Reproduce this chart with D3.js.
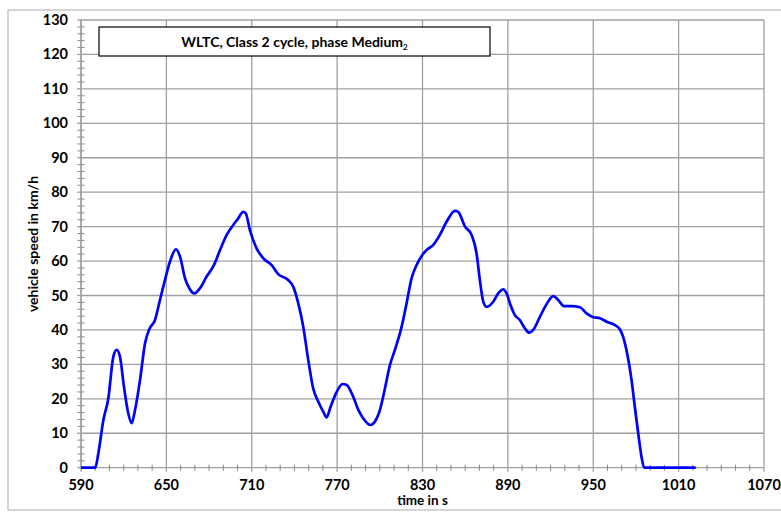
<!DOCTYPE html>
<html><head><meta charset="utf-8">
<script src="https://cdn.jsdelivr.net/npm/d3@7"></script>
<style>
body{margin:0;background:#fff;}
text{font-family:Lato,"Open Sans",sans-serif;}
</style></head>
<body><svg id="c" width="781" height="512"></svg>
<script>
const timeS = [590,600,602.2,605.7,609.2,612.7,615.1,617.4,620.2,623.2,625.6,628,631.5,635,638,642,645.5,649,652.5,656.7,659.6,663.1,666.1,669.6,673.6,678.3,683.4,687.7,692.4,697,700.5,704,705.7,708.7,713.4,718.1,724,728.6,735.6,739.2,742.7,746.2,749.7,753.2,756.7,760.2,762.6,765.4,769.2,773.8,776.7,781.3,784.9,788.4,793.5,796.6,800.1,803.6,807.1,810.6,815.3,818.8,822.3,825.8,829.4,832.9,837.6,842.2,846.9,852.8,855.1,859.9,864.5,868,870.3,872.7,875,879.7,883.2,886.7,889.1,891.9,894.9,898.4,901.9,905,907.8,912.5,917.2,921.9,925.4,929.4,934.8,940.6,945.3,950,954.7,959.4,965.2,968.7,971,973.8,976.9,979.2,981.6,983.9,985.8,1022];
const speedKmh = [0,0,4.2,13.8,20.1,32.2,34.2,32.2,23.5,15.8,12.9,16.8,25.5,36.1,40.2,42.9,48.7,54.5,59.8,63.4,61.3,55.0,52.1,50.6,52.1,55.5,58.8,63.2,67.6,70.5,72.4,74.3,73.9,69.0,63.7,60.8,58.8,56.2,54.5,52.5,47.7,40.9,31.3,23.0,19.2,16.3,14.6,17.7,21.6,24.3,24.0,20.6,16.8,14.3,12.4,13.4,16.8,23.0,29.8,34.2,40.9,47.7,55.0,58.8,61.5,63.2,64.7,67.6,71.4,74.6,74.3,70.0,67.6,62.2,54.5,48.2,46.7,48.2,50.6,51.8,50.6,47.2,44.3,42.9,40.5,39.2,40.0,43.8,47.5,49.8,48.7,46.9,46.9,46.6,44.8,43.7,43.4,42.4,41.4,40.2,38.0,33.2,25.5,17.7,10.0,3.2,0,0];
const xTicks = [590,650,710,770,830,890,950,1010,1070];
const yTicks = [0,10,20,30,40,50,60,70,80,90,100,110,120,130];
const titleMain = "WLTC, Class 2 cycle, phase Medium";
const titleSub = "2";
const xLabel = "time in s";
const yLabel = "vehicle speed in km/h";

const svg = d3.select("#c");
const L=81, R=764, T=20, B=467.7;
const x = d3.scaleLinear().domain([590,1070]).range([L,R]);
const y = d3.scaleLinear().domain([0,130]).range([B,T]);
const grid="#a0a0a0";

svg.append("rect").attr("x",8).attr("y",10).attr("width",800).attr("height",500)
  .attr("fill","none").attr("stroke","#c8c8c8").attr("stroke-width",1.5);

svg.append("g").selectAll("line").data(yTicks).join("line")
  .attr("x1",L).attr("x2",R).attr("y1",d=>y(d)).attr("y2",d=>y(d))
  .attr("stroke",grid).attr("stroke-width",1.3);
svg.append("g").selectAll("line").data(xTicks).join("line")
  .attr("x1",d=>x(d)).attr("x2",d=>x(d)).attr("y1",T).attr("y2",B+4)
  .attr("stroke",grid).attr("stroke-width",1.3);

const xMinor = d3.range(590,1071,10).filter(v=>!xTicks.includes(v));
svg.append("g").selectAll("line").data(xMinor).join("line")
  .attr("x1",d=>x(d)).attr("x2",d=>x(d)).attr("y1",B-3).attr("y2",B+3)
  .attr("stroke","#888").attr("stroke-width",1);
const yMinor = d3.range(0,131,2).filter(v=>v%10!==0);
svg.append("g").selectAll("line").data(yMinor).join("line")
  .attr("x1",L-3.5).attr("x2",L+3.5).attr("y1",d=>y(d)).attr("y2",d=>y(d))
  .attr("stroke","#888").attr("stroke-width",1);
svg.append("g").selectAll("line").data(yTicks).join("line")
  .attr("x1",L-4).attr("x2",L).attr("y1",d=>y(d)).attr("y2",d=>y(d))
  .attr("stroke",grid).attr("stroke-width",1.3);
svg.append("line").attr("x1",L).attr("x2",L).attr("y1",T).attr("y2",B).attr("stroke",grid).attr("stroke-width",1.3);

svg.append("g").selectAll("text").data(xTicks).join("text")
  .attr("x",d=>x(d)).attr("y",490).attr("text-anchor","middle")
  .attr("font-size",14.5).attr("font-weight","bold").attr("fill","#000").text(d=>d);
svg.append("g").selectAll("text").data(yTicks).join("text")
  .attr("x",68).attr("y",d=>y(d)+5).attr("text-anchor","end")
  .attr("font-size",14.5).attr("font-weight","bold").attr("fill","#000").text(d=>d);

svg.append("text").attr("x",422.5).attr("y",505).attr("text-anchor","middle")
  .attr("font-size",13.5).attr("font-weight","bold").text(xLabel);
svg.append("text").attr("transform","translate(38,244) rotate(-90)").attr("text-anchor","middle")
  .attr("font-size",14).attr("font-weight","bold").text(yLabel);

const line = d3.line().x((d,i)=>x(timeS[i])).y(d=>y(d)).curve(d3.curveMonotoneX);
svg.append("path").datum(speedKmh).attr("d",line).attr("fill","none")
  .attr("stroke","#0000ff").attr("stroke-width",2.7).attr("stroke-linejoin","round");

svg.append("rect").attr("x",99).attr("y",27).attr("width",391).attr("height",29)
  .attr("fill","#fff").attr("stroke","#000").attr("stroke-width",1.2);
const tt = svg.append("text").attr("x",294.5).attr("y",47).attr("text-anchor","middle")
  .attr("font-size",14).attr("font-weight","bold");
tt.append("tspan").text(titleMain);
tt.append("tspan").attr("font-size",8).attr("dy",3).text(titleSub);
</script></body></html>
